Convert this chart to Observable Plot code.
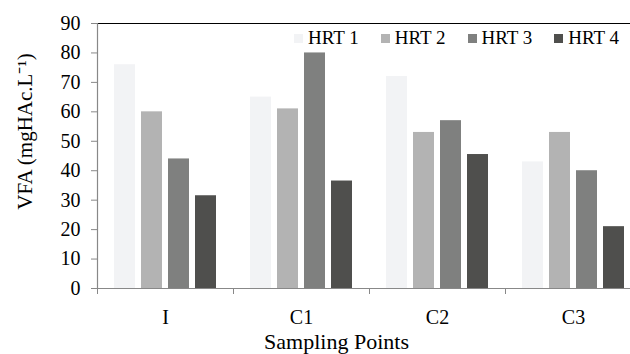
<!DOCTYPE html>
<html>
<head>
<meta charset="utf-8">
<script src="https://cdn.jsdelivr.net/npm/d3@7"></script>
<script src="https://cdn.jsdelivr.net/npm/@observablehq/plot@0.6"></script>
<style>
  html, body { margin: 0; padding: 0; background: #fff; }
  #wrap { position: relative; width: 630px; height: 354px; overflow: hidden; }
  #legend { position: absolute; left: 294px; top: 27px; display: flex; gap: 22px;
    font-family: "Liberation Serif", "Times New Roman", serif; font-size: 19px; color: #000; }
  #legend .item { display: flex; align-items: center; gap: 5px; white-space: nowrap; }
  #legend .sw { width: 9px; height: 9px; display: inline-block; }
</style>
</head>
<body>
<div id="wrap"></div>
<script>
const categories = ["I", "C1", "C2", "C3"];
const series = ["HRT 1", "HRT 2", "HRT 3", "HRT 4"];
const hrt1 = [76, 65, 72, 43];
const hrt2 = [60, 61, 53, 53];
const hrt3 = [44, 80, 57, 40];
const hrt4 = [31.5, 36.5, 45.5, 21];
const colors = ["#f2f3f5", "#b3b3b3", "#7f807f", "#4f4f4d"];
const yTicks = [0, 10, 20, 30, 40, 50, 60, 70, 80, 90];
const yTitle = "VFA (mgHAc.L\u207B\u00B9)";
const xTitle = "Sampling Points";

const seriesValues = [hrt1, hrt2, hrt3, hrt4];
const data = [];
categories.forEach((c, i) => series.forEach((s, j) => data.push({cat: c, series: s, value: seriesValues[j][i]})));

const half = (641 - 97) / categories.length / 2;
const serif = '"Liberation Serif", "Times New Roman", serif';

const chart = Plot.plot({
  width: 630,
  height: 354,
  marginLeft: 97,
  marginTop: 23,
  marginBottom: 66,
  marginRight: -11,
  style: {fontFamily: serif, fontSize: "20px", color: "#000", background: "#fff", overflow: "visible"},
  fx: {domain: categories, padding: 0, label: null},
  x: {domain: series, paddingInner: 0.236, paddingOuter: 0.59, axis: null},
  y: {domain: [0, 90], ticks: yTicks, label: null},
  color: {domain: series, range: colors},
  marks: [
    Plot.barY(data, {fx: "cat", x: "series", y: "value", fill: "series"}),
    Plot.ruleY([0], {stroke: "#888", strokeWidth: 1.2}),
    Plot.ruleY([90], {stroke: "#000", strokeWidth: 1.2}),
    Plot.frame({anchor: "left", stroke: "#888", strokeWidth: 1.2, facetAnchor: "left"}),
    Plot.axisY({ticks: yTicks, tickSize: 6, tickPadding: 11, label: null, stroke: "#888", fill: "#000", fontSize: 20, fontFamily: serif}),
    Plot.axisFx({anchor: "bottom", tickFormat: () => "", tickSize: 6, dx: -half, stroke: "#888", label: null}),
    Plot.axisFx({anchor: "bottom", tickSize: 0, tickPadding: 21, label: null, fill: "#000", fontSize: 20, fontFamily: serif}),
    Plot.text([xTitle], {facet: "super", frameAnchor: "bottom-left", dx: 239, dy: 53, textAnchor: "middle", lineAnchor: "middle", fontSize: 22, fontFamily: serif, fill: "#000"}),
    Plot.text([yTitle], {facet: "super", frameAnchor: "top-left", dx: -72, dy: 108, rotate: -90, textAnchor: "middle", lineAnchor: "middle", fontSize: 21, fontFamily: serif, fill: "#000"})
  ]
});

const wrap = document.getElementById("wrap");
wrap.appendChild(chart);

const legend = document.createElement("div");
legend.id = "legend";
series.forEach((s, i) => {
  const item = document.createElement("div");
  item.className = "item";
  const sw = document.createElement("span");
  sw.className = "sw";
  sw.style.background = colors[i];
  const label = document.createElement("span");
  label.textContent = s;
  item.appendChild(sw);
  item.appendChild(label);
  legend.appendChild(item);
});
wrap.appendChild(legend);
</script>
</body>
</html>
